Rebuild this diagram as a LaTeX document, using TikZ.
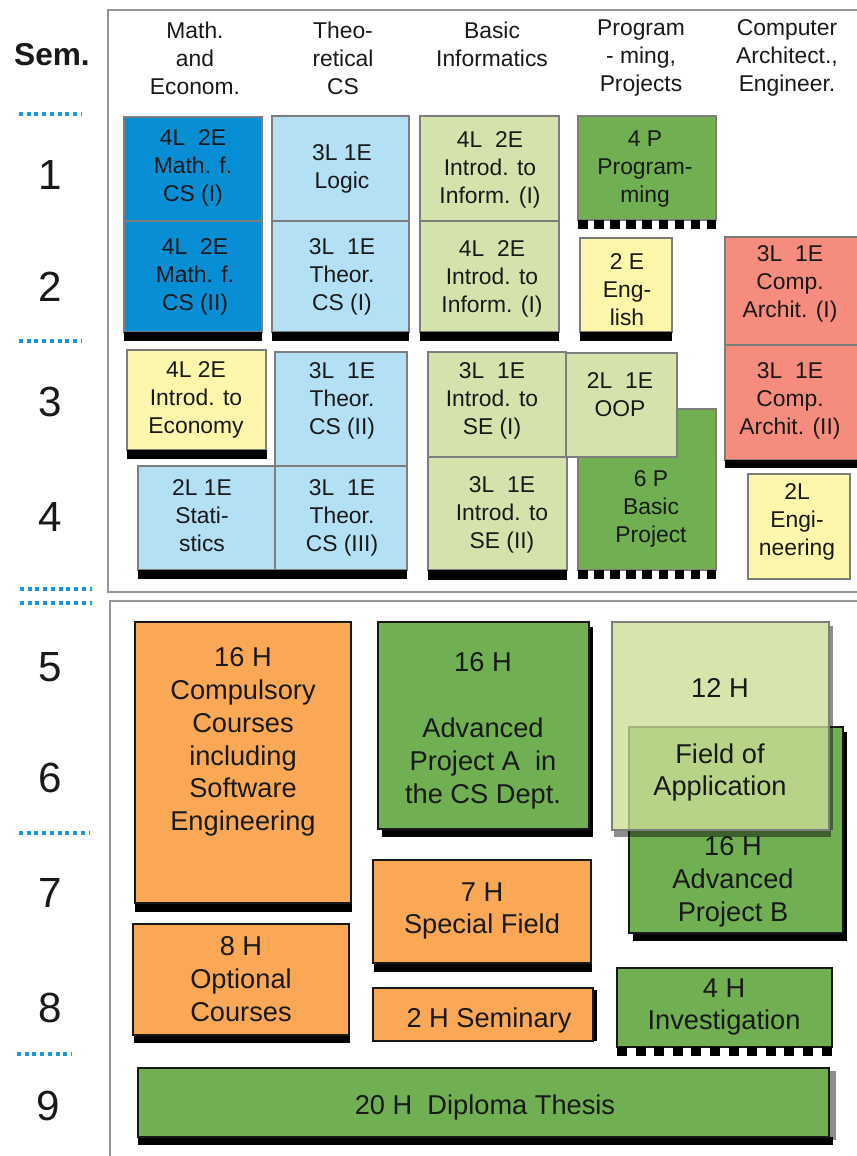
\documentclass[tikz,border=0pt]{standalone}
\usepackage{fontspec}
\setmainfont{Liberation Sans}
\definecolor{mathblue}{RGB}{8,142,212}
\definecolor{theoblue}{RGB}{180,224,245}
\definecolor{infogreen}{RGB}{212,226,172}
\definecolor{projgreen}{RGB}{112,176,82}
\definecolor{paleyellow}{RGB}{253,247,172}
\definecolor{archred}{RGB}{246,140,126}
\definecolor{courseorange}{RGB}{250,168,86}
\definecolor{fieldgreen}{RGB}{204,222,150}
\definecolor{dotblue}{RGB}{30,150,210}
\definecolor{framegray}{RGB}{150,150,150}
\definecolor{boxgray}{RGB}{125,125,125}
\definecolor{inkblack}{RGB}{25,25,25}
\begin{document}
\begin{tikzpicture}[x=0.02cm, y=-0.02cm,
	upper/.style = {draw = boxgray, line width = 0.6pt},
	lower/.style = {draw = inkblack, line width = 0.7pt},
	small/.style = {align = center, inner sep = 0pt, text = inkblack, font = \fontsize{13}{15.9}\selectfont},
	head/.style = {align = center, inner sep = 0pt, text = inkblack, font = \fontsize{13}{15.9}\selectfont},
	big/.style = {align = center, inner sep = 0pt, text = inkblack, font = \fontsize{15.5}{18.7}\selectfont},
	semnum/.style = {inner sep = 0pt, text = inkblack, font = \fontsize{24}{24}\selectfont},
	semdots/.style = {draw = dotblue, line width = 0.08cm, dash pattern = on 0.08cm off 0.075cm}]
	\useasboundingbox [fill = white] (0,0) rectangle (857,1156);

	% frames
	\draw [framegray, line width = 1.2pt] (860,10) -- (108,10) -- (108,592) -- (860,592);
	\draw [framegray, line width = 1.2pt] (860,601) -- (110,601) -- (110,1160);

	% semesters
	\node [inner sep = 0pt, text = inkblack, font = \fontsize{18}{18}\bfseries] (sem) at (52,55) {Sem.};
	\node [semnum] (s1) at (50,175) {1};
	\node [semnum] (s2) at (50,287) {2};
	\node [semnum] (s3) at (50,402) {3};
	\node [semnum] (s4) at (50,517) {4};
	\node [semnum] (s5) at (50,667) {5};
	\node [semnum] (s6) at (50,778) {6};
	\node [semnum] (s7) at (50,893) {7};
	\node [semnum] (s8) at (50,1008) {8};
	\node [semnum] (s9) at (48,1106) {9};
	\draw [semdots] (19,114) -- (82,114);
	\draw [semdots] (19,341) -- (82,341);
	\draw [semdots] (20,589) -- (92,589);
	\draw [semdots] (20,603) -- (92,603);
	\draw [semdots] (19,833) -- (89,833);
	\draw [semdots] (17,1054) -- (72,1054);

	% column heads
	\node [head] (hmath) at (195,58) {Math.\\and\\Econom.};
	\node [head] (htheo) at (343,58) {Theo-\\retical\\CS};
	\node [head] (hbasic) at (492,44) {Basic\\Informatics};
	\node [head] (hprog) at (641,58) {Program\\- ming,\\Projects};
	\node [head] (harch) at (787,58) {Computer\\Architect.,\\Engineer.};

	% semesters 1 and 2
	\draw [upper, fill = mathblue] (124,117) rectangle (262,221);
	\draw [upper, fill = mathblue] (124,221) rectangle (262,332);
	\fill (124,332) rectangle (262,341);
	\draw [upper, fill = theoblue] (272,116) rectangle (409,221);
	\draw [upper, fill = theoblue] (272,221) rectangle (409,332);
	\fill (272,332) rectangle (409,341);
	\draw [upper, fill = infogreen] (420,116) rectangle (559,221);
	\draw [upper, fill = infogreen] (420,221) rectangle (559,332);
	\fill (420,332) rectangle (559,341);
	\draw [upper, fill = projgreen] (578,116) rectangle (716,220);
	\foreach \i in {0,...,8}
		\fill (578+\i*16.1,220) rectangle ++(9.5,9);
	\draw [upper, fill = paleyellow] (580,238) rectangle (672,332);
	\fill (580,332) rectangle (672,341);
	\draw [upper, fill = archred] (725,237) rectangle (862,345);
	\draw [upper, fill = archred] (725,345) rectangle (862,460);
	\fill (725,460) rectangle (862,468);

	% semesters 3 and 4
	\draw [upper, fill = paleyellow] (127,350) rectangle (266,450);
	\fill (127,450) rectangle (267,459);
	\draw [upper, fill = theoblue] (275,352) rectangle (407,466);
	\draw [upper, fill = theoblue] (138,466) rectangle (275,570);
	\draw [upper, fill = theoblue] (275,466) rectangle (407,570);
	\fill (138,570) rectangle (407,579);
	\draw [upper, fill = infogreen] (428,352) rectangle (566,457);
	\draw [upper, fill = infogreen] (428,457) rectangle (567,570);
	\fill (428,570) rectangle (567,580);
	\draw [upper, fill = projgreen] (578,409) rectangle (716,570);
	\foreach \i in {0,...,8}
		\fill (578+\i*16.1,570) rectangle ++(9.5,9);
	\draw [upper, fill = infogreen] (566,353) rectangle (677,457);
	\draw [upper, fill = paleyellow] (748,474) rectangle (850,579);

	\node [small] (mcs1) at (193,168) {4L\ \ 2E\\Math. f.\\CS (I)};
	\node [small] (mcs2) at (195,277) {4L\ \ 2E\\Math. f.\\CS (II)};
	\node [small] (logic) at (342,169) {3L 1E\\Logic};
	\node [small] (tcs1) at (342,277) {3L\ \ 1E\\Theor.\\CS (I)};
	\node [small] (inf1) at (490,170) {4L\ \ 2E\\Introd. to\\Inform. (I)};
	\node [small] (inf2) at (492,279) {4L\ \ 2E\\Introd. to\\Inform. (I)};
	\node [small] (prog) at (645,169) {4 P\\Program-\\ming};
	\node [small] (engl) at (627,290) {2 E\\Eng-\\lish};
	\node [small] (arch1) at (790,284) {3L\ \ 1E\\Comp.\\Archit. (I)};
	\node [small] (arch2) at (790,401) {3L\ \ 1E\\Comp.\\Archit. (II)};
	\node [small] (econ) at (196,400) {4L 2E\\Introd. to\\Economy};
	\node [small] (tcs2) at (342,401) {3L\ \ 1E\\Theor.\\CS (II)};
	\node [small] (stat) at (202,516) {2L 1E\\Stati-\\stics};
	\node [small] (tcs3) at (342,518) {3L\ \ 1E\\Theor.\\CS (III)};
	\node [small] (se1) at (492,401) {3L\ \ 1E\\Introd. to\\SE (I)};
	\node [small] (oop) at (620,395) {2L\ \ 1E\\OOP};
	\node [small] (bproj) at (651,509) {6 P\\Basic\\Project};
	\node [small] (se2) at (502,515) {3L\ \ 1E\\Introd. to\\SE (II)};
	\node [small] (engin) at (797,522) {2L\\Engi-\\neering};

	% semesters 5 to 9
	\fill (135,903) rectangle (352,912);
	\draw [lower, fill = courseorange] (135,622) rectangle (351,903);
	\fill (382,627) rectangle (593,837);
	\draw [lower, fill = projgreen] (378,622) rectangle (589,829);
	\fill (374,963) rectangle (592,972);
	\draw [lower, fill = courseorange] (373,860) rectangle (591,963);
	\fill (134,1035) rectangle (350,1043);
	\draw [lower, fill = courseorange] (133,924) rectangle (349,1035);
	\fill (589,990) rectangle (597,1041);
	\draw [lower, fill = courseorange] (373,988) rectangle (593,1041);
	\fill (633,732) rectangle (847,941);
	\draw [lower, fill = projgreen] (629,727) rectangle (843,933);
	\fill [black, opacity = 0.45] (614,830) rectangle (831,837);
	\fill [black, opacity = 0.45] (829,626) rectangle (833,830);
	\draw [boxgray, line width = 0.6pt, fill = fieldgreen, fill opacity = 0.78] (612,622) rectangle (829,830);
	\draw [lower, fill = projgreen] (617,968) rectangle (832,1047);
	\foreach \i in {0,...,11}
		\fill (617+\i*18.6,1047) rectangle ++(10,9);
	\fill [black!45] (829,1071) rectangle (836,1140);
	\fill (138,1137) rectangle (833,1145);
	\draw [lower, fill = projgreen] (138,1068) rectangle (829,1137);

	\node [big] (comp) at (243,742) {16 H\\Compulsory\\Courses\\including\\Software\\Engineering};
	\node [big] (advA) at (483,731) {16 H\\[18.7pt]Advanced\\Project A\ \ in\\the CS Dept.};
	\node [big] (field) at (720,740) {12 H\\[18.7pt]Field of\\Application};
	\node [big] (advB) at (733,882) {16 H\\Advanced\\Project B};
	\node [big] (spec) at (482,911) {7 H\\Special Field};
	\node [big] (opt) at (241,979) {8 H\\Optional\\Courses};
	\node [big] (semin) at (489,1020) {2 H Seminary};
	\node [big] (invest) at (724,1007) {4 H\\Investigation};
	\node [big] (thesis) at (485,1107) {20 H\ \ Diploma Thesis};
\end{tikzpicture}
\end{document}
